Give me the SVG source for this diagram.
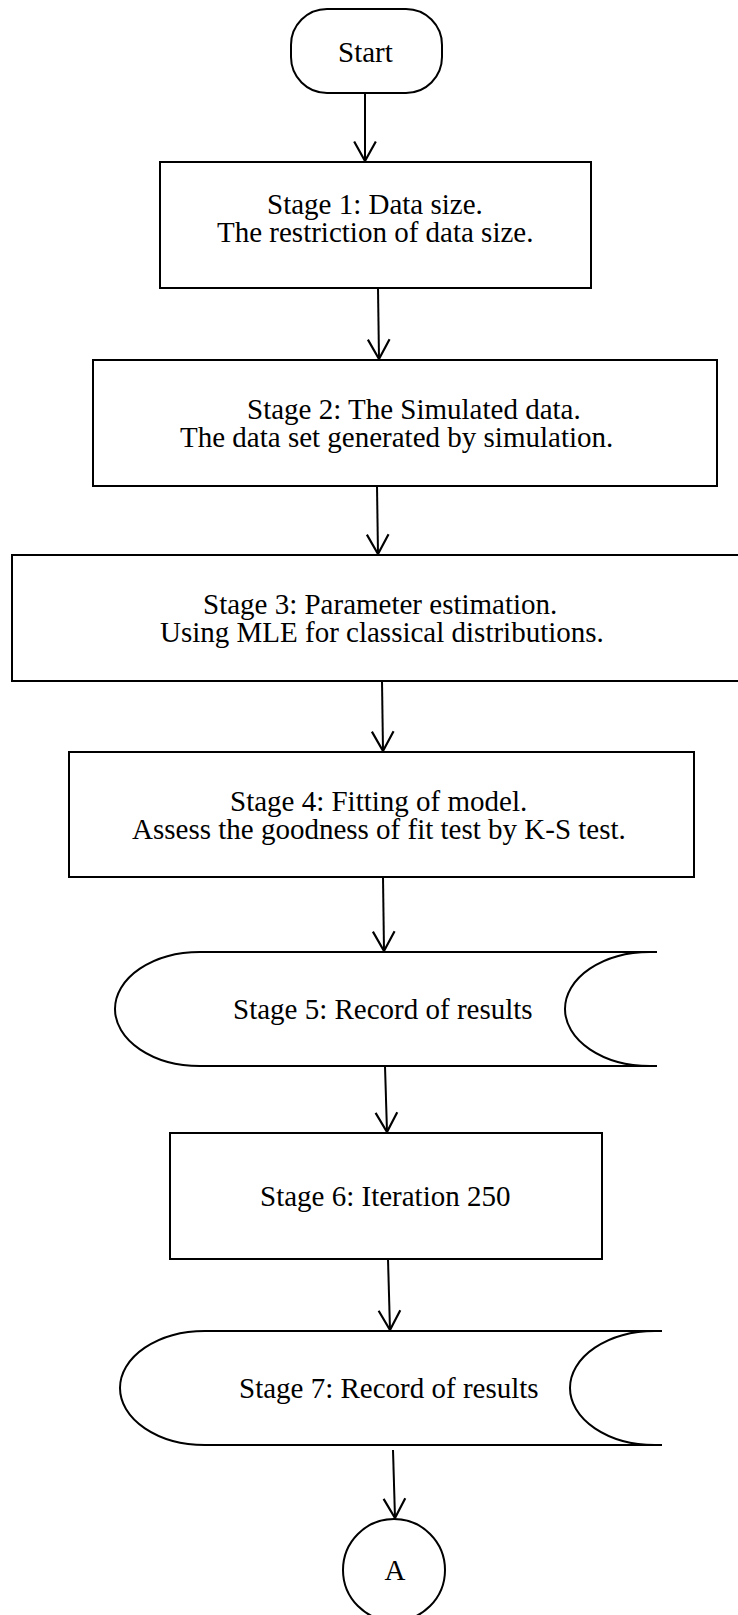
<svg xmlns="http://www.w3.org/2000/svg" width="738" height="1615" viewBox="0 0 738 1615">
  <style>
    .shape { fill: #ffffff; stroke: #000000; stroke-width: 2; }
    .label { font-family: "Liberation Serif", "Times New Roman", serif; font-size: 29px; fill: #000000; }
    .flow { fill: none; stroke: #000000; stroke-width: 2; }
  </style>
  <defs>
    <marker id="open-arrow" markerUnits="userSpaceOnUse" markerWidth="24" markerHeight="26" viewBox="-20 -12 22 24" refX="0" refY="0" orient="auto">
      <path d="M -18 -10 L 0 0 L -18 10" fill="none" stroke="#000000" stroke-width="2"/>
    </marker>
  </defs>

  <rect width="738" height="1615" fill="#ffffff"/>

  <!-- Terminator -->
  <g id="start">
    <rect class="shape" x="291" y="9" width="151" height="84" rx="36" ry="36"/>
    <text class="label" x="338" y="62">Start</text>
  </g>

  <g id="stage1">
    <rect class="shape" x="160" y="162" width="431" height="126"/>
    <text class="label" x="267" y="214">Stage 1: Data size.</text>
    <text class="label" x="217" y="242">The restriction of data size.</text>
  </g>

  <g id="stage2">
    <rect class="shape" x="93" y="360" width="624" height="126"/>
    <text class="label" x="247" y="419">Stage 2: The Simulated data.</text>
    <text class="label" x="180" y="447">The data set generated by simulation.</text>
  </g>

  <g id="stage3">
    <rect class="shape" x="12" y="555" width="740" height="126"/>
    <text class="label" x="203" y="614">Stage 3: Parameter estimation.</text>
    <text class="label" x="160" y="642">Using MLE for classical distributions.</text>
  </g>

  <g id="stage4">
    <rect class="shape" x="69" y="752" width="625" height="125"/>
    <text class="label" x="230" y="811">Stage 4: Fitting of model.</text>
    <text class="label" x="132" y="839">Assess the goodness of fit test by K-S test.</text>
  </g>

  <!-- Stored data symbol -->
  <g id="stage5">
    <path class="shape" d="M 657 952 H 200 A 85 57 0 0 0 200 1066 H 657"/>
    <path class="flow" d="M 650 952 A 85 57 0 0 0 650 1066"/>
    <text class="label" x="233" y="1019">Stage 5: Record of results</text>
  </g>

  <g id="stage6">
    <rect class="shape" x="170" y="1133" width="432" height="126"/>
    <text class="label" x="260" y="1206">Stage 6: Iteration 250</text>
  </g>

  <g id="stage7">
    <path class="shape" d="M 662 1331 H 205 A 85 57 0 0 0 205 1445 H 662"/>
    <path class="flow" d="M 655 1331 A 85 57 0 0 0 655 1445"/>
    <text class="label" x="239" y="1398">Stage 7: Record of results</text>
  </g>

  <!-- Off-page connector -->
  <g id="connector-a">
    <circle class="shape" cx="394" cy="1570" r="51"/>
    <text class="label" x="395" y="1580" text-anchor="middle">A</text>
  </g>

  <g id="connectors">
    <line class="flow" x1="365" y1="93" x2="365" y2="161" marker-end="url(#open-arrow)"/>
    <line class="flow" x1="378" y1="288" x2="379" y2="359" marker-end="url(#open-arrow)"/>
    <line class="flow" x1="377" y1="486" x2="378" y2="554" marker-end="url(#open-arrow)"/>
    <line class="flow" x1="382" y1="681" x2="383" y2="751" marker-end="url(#open-arrow)"/>
    <line class="flow" x1="383" y1="877" x2="384" y2="951" marker-end="url(#open-arrow)"/>
    <line class="flow" x1="385" y1="1066" x2="387" y2="1132" marker-end="url(#open-arrow)"/>
    <line class="flow" x1="388" y1="1259" x2="390" y2="1330" marker-end="url(#open-arrow)"/>
    <line class="flow" x1="393" y1="1450" x2="395" y2="1518" marker-end="url(#open-arrow)"/>
  </g>
</svg>
